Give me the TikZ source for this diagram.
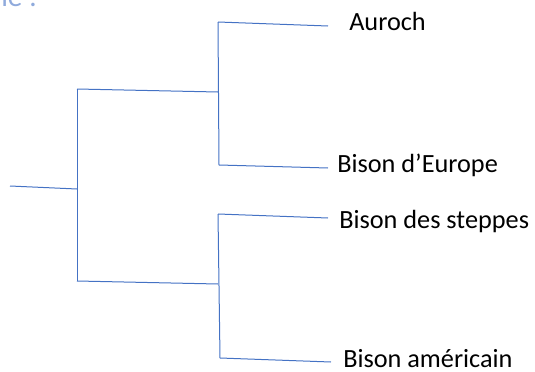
\documentclass[tikz,border=0pt]{standalone}
\usepackage{fontspec}
\setmainfont{Carlito}
\definecolor{branch}{HTML}{4472C4}
\definecolor{title}{HTML}{8FAADC}
\begin{document}
\begin{tikzpicture}[x=0.75pt,y=-0.75pt,
  every node/.style={inner sep=0pt,anchor=base west,font=\fontsize{19.7}{24}\selectfont}]
\useasboundingbox (0,0) rectangle (535,371);
\node[text=title,font=\fontsize{22}{26}\selectfont] (head) at (1,6.5) {le :};

\coordinate (r) at (10,186);
\coordinate (a) at (77,189);
\coordinate (a1) at (77,89);
\coordinate (a2) at (77,281);
\coordinate (b) at (218,92);
\coordinate (b1) at (218,22);
\coordinate (b2) at (219,165);
\coordinate (c) at (218,284);
\coordinate (c1) at (218,214);
\coordinate (c2) at (220,358);
\coordinate (e1) at (328,26);
\coordinate (e2) at (328,168);
\coordinate (e3) at (328,218);
\coordinate (e4) at (331,362);

\node (1) at (349,31) {Auroch};
\node (2) at (337,172) {Bison d’Europe};
\node (3) at (339,228) {Bison des steppes};
\node (4) at (343,367) {Bison américain};

\path[draw,branch,line width=0.75pt] (r) -- (a);
\path[draw,branch,line width=0.75pt] (a1) -- (a2);
\path[draw,branch,line width=0.75pt] (a1) -- (b);
\path[draw,branch,line width=0.75pt] (a2) -- (c);
\path[draw,branch,line width=0.75pt] (b1) -- (b2);
\path[draw,branch,line width=0.75pt] (c1) -- (c2);
\path[draw,branch,line width=0.75pt] (b1) -- (e1);
\path[draw,branch,line width=0.75pt] (b2) -- (e2);
\path[draw,branch,line width=0.75pt] (c1) -- (e3);
\path[draw,branch,line width=0.75pt] (c2) -- (e4);
\end{tikzpicture}
\end{document}
